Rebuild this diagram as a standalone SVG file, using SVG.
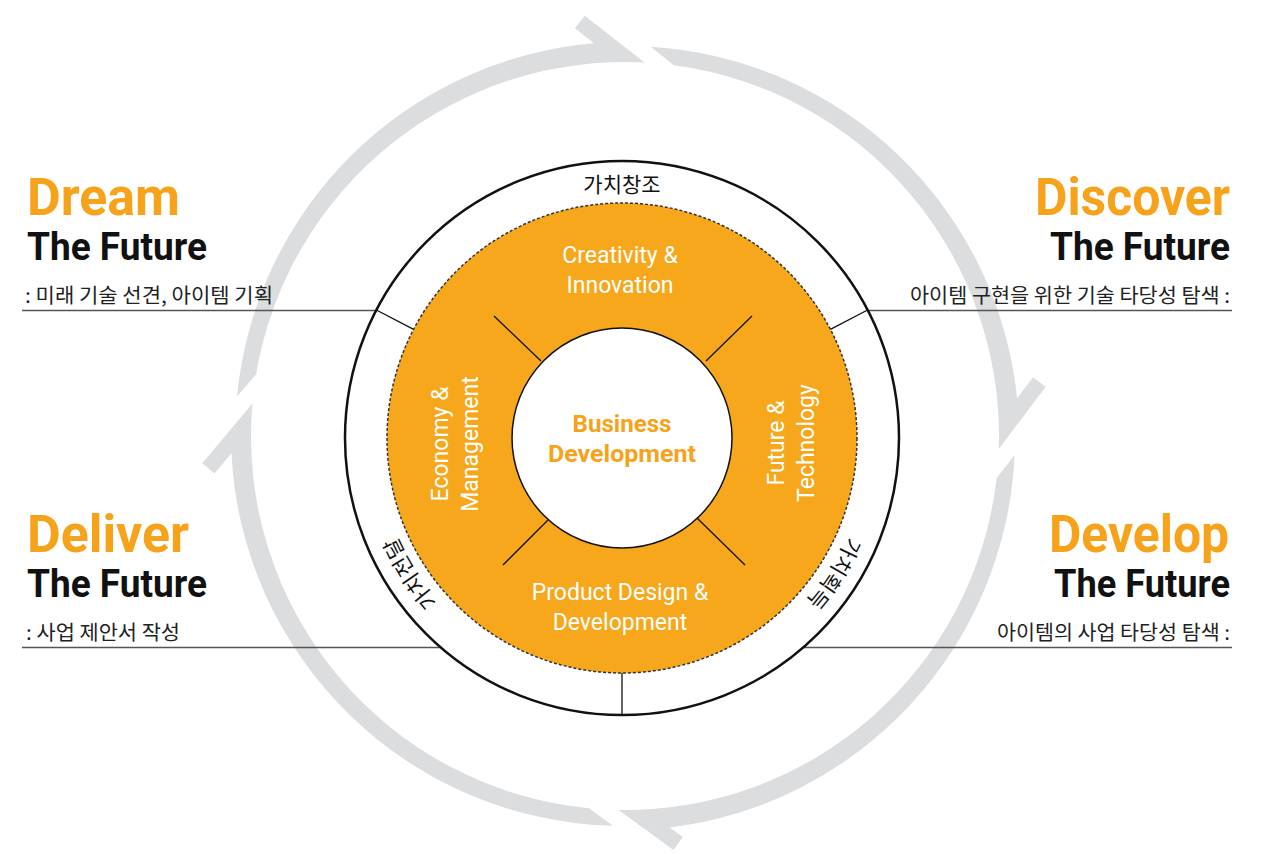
<svg xmlns="http://www.w3.org/2000/svg" width="1269" height="854" viewBox="0 0 1269 854">
<defs>
<style>
.head{font-family:Roboto,"Liberation Sans",sans-serif;font-weight:700;font-size:51px;fill:#f7a21b}
.sub{font-family:Roboto,"Liberation Sans",sans-serif;font-weight:700;font-size:39px;fill:#111}
.kr{font-family:"Noto Sans CJK KR","Noto Sans",sans-serif;font-size:20px;fill:#222}
.lead{stroke:#555;stroke-width:1.5;fill:none}
.arrow{fill:#dcdddf}
.wl{font-family:Roboto,"Liberation Sans",sans-serif;font-size:23px;fill:#fff;text-anchor:middle}
.ring{font-family:"Noto Sans CJK KR",sans-serif;font-size:21px;fill:#111}
.div{stroke:#111;stroke-width:1.3}
.biz{font-family:Roboto,"Liberation Sans",sans-serif;font-weight:700;font-size:23px;fill:#f7a21b;text-anchor:middle}
</style>
<path id="tp" d="M 868 438 A 246 246 0 1 1 376 438 A 246 246 0 1 1 868 438"/>
</defs>
<rect width="1269" height="854" fill="#fff"/>

<g id="cycle-arrows">
<path class="arrow" d="M 237 396.59 A 392 392 0 0 1 594.01 43.28 L 574.87 28.31 L 584.75 15.71 L 644.57 62.51 A 374 374 0 0 0 256.13 374.27 Z"/>
<path class="arrow" d="M 650.85 46.86 A 392 392 0 0 1 1017.11 398.16 L 1032.97 377.14 L 1045.74 386.78 L 998.77 449.05 A 374 374 0 0 0 673.82 65.2 Z"/>
<path class="arrow" d="M 1014.54 455.05 A 392 392 0 0 1 669.67 827.39 L 682.88 837 L 673.47 849.94 L 618.47 809.94 A 374 374 0 0 0 996.6 478.34 Z"/>
<path class="arrow" d="M 612.75 825.81 A 392 392 0 0 1 231.45 453.26 L 214.51 473.42 L 202.26 463.14 L 252.42 403.4 A 374 374 0 0 0 589.15 808.28 Z"/>
</g>

<g id="connectors">
<line class="lead" x1="22" y1="310.5" x2="376.4" y2="310.5"/>
<line class="lead" x1="867.6" y1="310.5" x2="1232" y2="310.5"/>
<line class="lead" x1="22" y1="647.5" x2="440.8" y2="647.5"/>
<line class="lead" x1="803.2" y1="647.5" x2="1232" y2="647.5"/>
</g>

<g id="value-ring">
<circle cx="622" cy="438" r="277" fill="#fff" stroke="#111" stroke-width="2.5"/>
<line class="div" x1="376.4" y1="310" x2="413.6" y2="329.4"/>
<line class="div" x1="867.6" y1="310" x2="830.4" y2="329.4"/>
<line class="div" x1="622" y1="673" x2="622" y2="715"/>
<text class="ring" x="622" y="192" text-anchor="middle">가치창조</text>
<text class="ring"><textPath href="#tp" startOffset="139.5" text-anchor="middle">가치획득</textPath></text>
<text class="ring"><textPath href="#tp" startOffset="632.4" text-anchor="middle">가치전달</textPath></text>
</g>

<g id="orange-ring">
<circle cx="622" cy="438" r="235" fill="#f7a71c" stroke="#333" stroke-width="1.5" stroke-dasharray="3 2"/>
<line class="div" x1="494" y1="316" x2="541" y2="361"/>
<line class="div" x1="752" y1="316" x2="706" y2="361"/>
<line class="div" x1="503" y1="565" x2="548" y2="520"/>
<line class="div" x1="745" y1="565" x2="697" y2="518"/>
</g>

<g id="creativity">
<text class="wl" x="620" y="263">Creativity &amp;</text>
<text class="wl" x="620" y="293">Innovation</text>
</g>
<g id="product">
<text class="wl" x="620" y="600">Product Design &amp;</text>
<text class="wl" x="620" y="630">Development</text>
</g>
<g id="economy">
<text class="wl" transform="translate(448 444) rotate(-90)" x="0" y="0">Economy &amp;</text>
<text class="wl" transform="translate(478 444) rotate(-90)" x="0" y="0">Management</text>
</g>
<g id="future">
<text class="wl" transform="translate(784 443) rotate(-90)" x="0" y="0">Future &amp;</text>
<text class="wl" transform="translate(814 443) rotate(-90)" x="0" y="0">Technology</text>
</g>

<g id="business">
<circle cx="622" cy="438" r="110" fill="#fff" stroke="#111" stroke-width="1.5"/>
<text class="biz" x="622" y="432" textLength="99" lengthAdjust="spacingAndGlyphs">Business</text>
<text class="biz" x="622" y="462" textLength="148" lengthAdjust="spacingAndGlyphs">Development</text>
</g>

<g id="dream">
<text class="head" x="27" y="215" textLength="153" lengthAdjust="spacingAndGlyphs">Dream</text>
<text class="sub" x="27" y="260" textLength="180" lengthAdjust="spacingAndGlyphs">The Future</text>
<text class="kr" x="25" y="303" textLength="248" lengthAdjust="spacingAndGlyphs">: 미래 기술 선견, 아이템 기획</text>
</g>
<g id="discover">
<text class="head" x="1230" y="215" text-anchor="end" textLength="195" lengthAdjust="spacingAndGlyphs">Discover</text>
<text class="sub" x="1230" y="260" text-anchor="end" textLength="180" lengthAdjust="spacingAndGlyphs">The Future</text>
<text class="kr" x="1230" y="303" text-anchor="end" textLength="320" lengthAdjust="spacingAndGlyphs">아이템 구현을 위한 기술 타당성 탐색 :</text>
</g>
<g id="deliver">
<text class="head" x="27" y="552" textLength="162" lengthAdjust="spacingAndGlyphs">Deliver</text>
<text class="sub" x="27" y="597" textLength="180" lengthAdjust="spacingAndGlyphs">The Future</text>
<text class="kr" x="26" y="640" textLength="154" lengthAdjust="spacingAndGlyphs">: 사업 제안서 작성</text>
</g>
<g id="develop">
<text class="head" x="1229" y="552" text-anchor="end" textLength="180" lengthAdjust="spacingAndGlyphs">Develop</text>
<text class="sub" x="1230" y="597" text-anchor="end" textLength="176" lengthAdjust="spacingAndGlyphs">The Future</text>
<text class="kr" x="1230" y="640" text-anchor="end" textLength="233" lengthAdjust="spacingAndGlyphs">아이템의 사업 타당성 탐색 :</text>
</g>
</svg>
